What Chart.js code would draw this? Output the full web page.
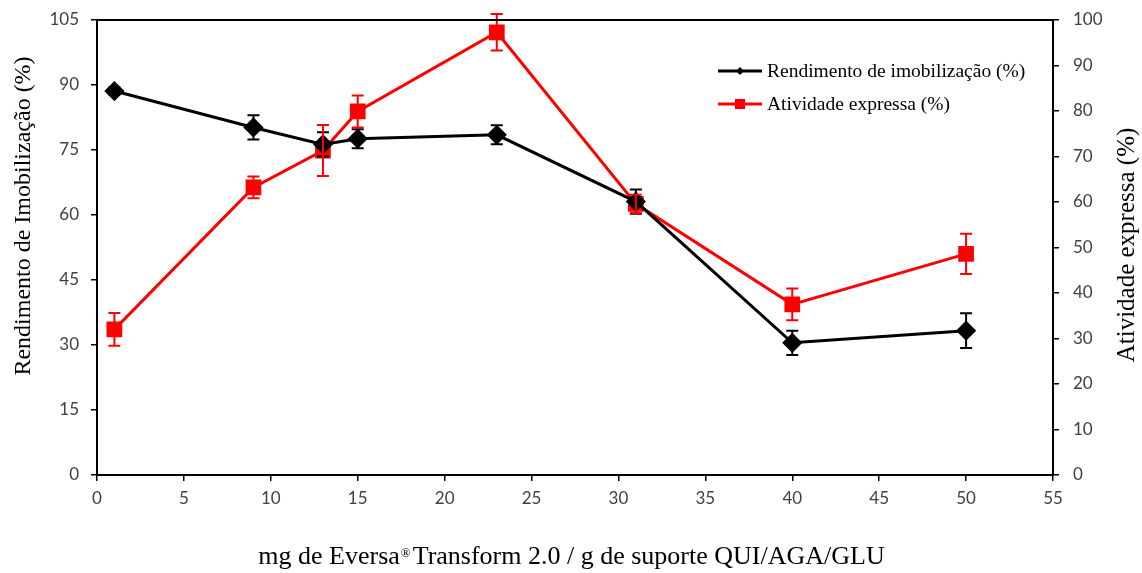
<!DOCTYPE html>
<html>
<head>
<meta charset="utf-8">
<script src="https://cdn.jsdelivr.net/npm/chart.js@4"></script>
<style>
  html, body { margin: 0; padding: 0; background: #fff; }
  #wrap { width: 1142px; height: 573px; position: relative; }
</style>
</head>
<body>
<div id="wrap"><canvas id="grafico"></canvas></div>
<script>
// --- Dados ---
const massas = [1, 9, 13, 15, 23, 31, 40, 50];
const rendimento = [88.6, 80.2, 76.3, 77.6, 78.5, 63.1, 30.5, 33.3];
const rendimentoErro = [0.8, 2.8, 2.8, 2.2, 2.2, 2.8, 2.8, 4.0];
const atividade = [32.0, 63.2, 71.3, 79.9, 97.3, 59.6, 37.5, 48.6];
const atividadeErro = [3.6, 2.4, 5.6, 3.5, 4.0, 2.0, 3.5, 4.4];
const xTicks = [0, 5, 10, 15, 20, 25, 30, 35, 40, 45, 50, 55];
const yLeftTicks = [0, 15, 30, 45, 60, 75, 90, 105];
const yRightTicks = [0, 10, 20, 30, 40, 50, 60, 70, 80, 90, 100];

const serif = "'Liberation Serif', 'Times New Roman', serif";
const sans = "Lato, 'Open Sans', sans-serif";

// barras de erro desenhadas com as escalas do próprio gráfico
const errorBars = {
  id: 'errorBars',
  afterDatasetsDraw(chart) {
    const ctx = chart.ctx;
    chart.data.datasets.forEach((ds, i) => {
      if (!ds.erro) return;
      const yScale = chart.scales[ds.yAxisID];
      const xScale = chart.scales.x;
      ctx.save();
      ctx.strokeStyle = ds.borderColor;
      ctx.lineWidth = 2;
      ds.data.forEach((p, j) => {
        const e = ds.erro[j];
        const x = xScale.getPixelForValue(p.x);
        const y1 = yScale.getPixelForValue(p.y + e);
        const y2 = yScale.getPixelForValue(p.y - e);
        ctx.beginPath();
        ctx.moveTo(x, y1); ctx.lineTo(x, y2);
        ctx.moveTo(x - 6, y1); ctx.lineTo(x + 6, y1);
        ctx.moveTo(x - 6, y2); ctx.lineTo(x + 6, y2);
        ctx.stroke();
      });
      ctx.restore();
    });
  }
};

// legenda e títulos dos eixos
const extras = {
  id: 'extras',
  afterDraw(chart) {
    const ctx = chart.ctx;
    const a = chart.chartArea;
    ctx.save();
    // moldura
    ctx.strokeStyle = '#000';
    ctx.lineWidth = 2;
    ctx.strokeRect(a.left, a.top, a.right - a.left, a.bottom - a.top);

    // legenda
    ctx.font = '19.5px ' + serif;
    ctx.textBaseline = 'middle';
    chart.data.datasets.forEach((ds, i) => {
      const y = 71 + i * 33;
      const x0 = 718, x1 = 762;
      ctx.strokeStyle = ds.borderColor;
      ctx.lineWidth = 3;
      ctx.beginPath(); ctx.moveTo(x0, y); ctx.lineTo(x1, y); ctx.stroke();
      ctx.fillStyle = ds.borderColor;
      const xc = (x0 + x1) / 2;
      ctx.beginPath();
      if (ds.pointStyle === 'rect') {
        ctx.rect(xc - 5, y - 5, 10, 10);
      } else {
        ctx.moveTo(xc - 4, y); ctx.lineTo(xc, y - 4); ctx.lineTo(xc + 4, y); ctx.lineTo(xc, y + 4);
        ctx.closePath();
      }
      ctx.fill();
      ctx.fillStyle = '#000';
      ctx.textAlign = 'left';
      ctx.fillText(ds.label, 767, y + 1);
    });

    ctx.fillStyle = '#000';
    ctx.textAlign = 'center';
    ctx.textBaseline = 'middle';

    // título eixo esquerdo
    ctx.font = '24px ' + serif;
    ctx.save();
    ctx.translate(24, 216);
    ctx.rotate(-Math.PI / 2);
    ctx.fillText('Rendimento de Imobilização (%)', 0, 0);
    ctx.restore();

    // título eixo direito
    ctx.font = '25px ' + serif;
    ctx.save();
    ctx.translate(1127, 245);
    ctx.rotate(-Math.PI / 2);
    ctx.fillText('Atividade expressa (%)', 0, 0);
    ctx.restore();

    // título eixo x com ® sobrescrito
    const p1 = 'mg de Eversa', p2 = '®', p3 = 'Transform 2.0 / g de suporte QUI/AGA/GLU';
    const fBig = '26px ' + serif, fSmall = '13px ' + serif;
    ctx.font = fBig; const w1 = ctx.measureText(p1).width, w3 = ctx.measureText(p3).width;
    ctx.font = fSmall; const w2 = ctx.measureText(p2).width + 2;
    let x = 571 - (w1 + w2 + w3) / 2;
    const yT = 557;
    ctx.textAlign = 'left';
    ctx.font = fBig; ctx.fillText(p1, x, yT); x += w1 + 1;
    ctx.font = fSmall; ctx.fillText(p2, x, yT - 3); x += w2;
    ctx.font = fBig; ctx.fillText(p3, x, yT);
    ctx.restore();
  }
};

const pontos = (xs, ys) => xs.map((x, i) => ({ x: x, y: ys[i] }));

const gradeEixo = { drawOnChartArea: false, drawTicks: true, tickLength: 6, color: '#000', lineWidth: 1.5 };
const fonteTicks = { family: sans, size: 17 };

// largura fixa dos eixos verticais, sem folga extra acima/abaixo
const fixarVertical = w => s => { s.width = w; s.paddingTop = 0; s.paddingBottom = 0; };

new Chart(document.getElementById('grafico'), {
  type: 'line',
  data: {
    datasets: [
      {
        label: 'Rendimento de imobilização (%)',
        data: pontos(massas, rendimento),
        erro: rendimentoErro,
        yAxisID: 'y',
        borderColor: '#000000',
        backgroundColor: '#000000',
        borderWidth: 3,
        pointStyle: 'rectRot',
        pointRadius: 8,
        pointHoverRadius: 8,
        tension: 0
      },
      {
        label: 'Atividade expressa (%)',
        data: pontos(massas, atividade),
        erro: atividadeErro,
        yAxisID: 'y2',
        borderColor: '#ff0000',
        backgroundColor: '#ff0000',
        borderWidth: 3,
        pointStyle: 'rect',
        pointRadius: 9,
        pointHoverRadius: 9,
        tension: 0
      }
    ]
  },
  options: {
    responsive: true,
    maintainAspectRatio: false,
    animation: false,
    layout: { padding: { top: 20, left: 0, right: 0, bottom: 0 } },
    plugins: {
      legend: { display: false },
      tooltip: { enabled: false }
    },
    scales: {
      x: {
        type: 'linear',
        min: 0, max: 55,
        afterBuildTicks: s => { s.ticks = xTicks.map(v => ({ value: v })); },
        afterFit: s => { s.height = 98; s.paddingLeft = 0; s.paddingRight = 0; },
        grid: gradeEixo,
        border: { color: '#000', width: 2 },
        ticks: { color: '#404040', font: fonteTicks, padding: 7, maxRotation: 0 }
      },
      y: {
        position: 'left',
        min: 0, max: 105,
        afterBuildTicks: s => { s.ticks = yLeftTicks.map(v => ({ value: v })); },
        afterFit: fixarVertical(97),
        grid: gradeEixo,
        border: { color: '#000', width: 2 },
        ticks: { color: '#404040', font: fonteTicks, padding: 12 }
      },
      y2: {
        position: 'right',
        min: 0, max: 100,
        afterBuildTicks: s => { s.ticks = yRightTicks.map(v => ({ value: v })); },
        afterFit: fixarVertical(89),
        grid: gradeEixo,
        border: { color: '#000', width: 2 },
        ticks: { color: '#404040', font: fonteTicks, padding: 14 }
      }
    }
  },
  plugins: [errorBars, extras]
});
</script>
</body>
</html>
